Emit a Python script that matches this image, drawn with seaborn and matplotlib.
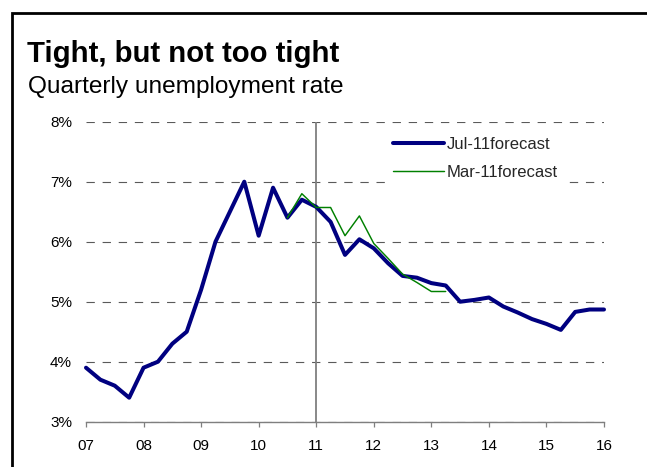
import numpy as np
import pandas as pd
import matplotlib
matplotlib.use("Agg")
import matplotlib.pyplot as plt
from matplotlib.patches import Rectangle
from matplotlib.lines import Line2D
import seaborn as sns

# Quarterly unemployment rate (%), Q1 2007 .. Q1 2016
jul_quarters = np.arange(2007.0, 2016.01, 0.25)
jul_forecast = [
    3.9, 3.7, 3.6, 3.4,
    3.9, 4.0, 4.3, 4.5,
    5.2, 6.0, 6.5, 7.0,
    6.1, 6.9, 6.4, 6.7,
    6.58, 6.33, 5.78, 6.04,
    5.89, 5.64, 5.43, 5.40,
    5.31, 5.27, 5.00, 5.03,
    5.07, 4.92, 4.82, 4.71,
    4.63, 4.53, 4.83, 4.87,
    4.87,
]
# Earlier forecast, Q3 2010 .. Q2 2013
mar_quarters = np.arange(2010.5, 2013.26, 0.25)
mar_forecast = [6.4, 6.8, 6.57, 6.57, 6.1, 6.43, 5.97, 5.72, 5.46, 5.32, 5.17, 5.17]

year_ticks = list(range(2007, 2017))
year_labels = ["07", "08", "09", "10", "11", "12", "13", "14", "15", "16"]
pct_ticks = [3, 4, 5, 6, 7, 8]
pct_labels = ["3%", "4%", "5%", "6%", "7%", "8%"]
series_names = ["Jul-11forecast", "Mar-11forecast"]

NAVY = "#000080"
GREEN = "#008000"
GREY = "#7f7f7f"

df = pd.concat([
    pd.DataFrame({"quarter": jul_quarters, "rate": jul_forecast, "series": series_names[0]}),
    pd.DataFrame({"quarter": mar_quarters, "rate": mar_forecast, "series": series_names[1]}),
])

sns.set_theme(style="white")
plt.rcParams["font.family"] = ["Liberation Sans", "DejaVu Sans"]

W, H = 647, 467
fig = plt.figure(figsize=(W / 100, H / 100), dpi=100)
ax = fig.add_axes([86 / W, (H - 421.7) / H, 518 / W, 300 / H])

sns.lineplot(data=df[df["series"] == series_names[0]], x="quarter", y="rate",
             color=NAVY, linewidth=2.9, ax=ax, legend=False, clip_on=False,
             solid_joinstyle="round", zorder=3)
sns.lineplot(data=df[df["series"] == series_names[1]], x="quarter", y="rate",
             color=GREEN, linewidth=1.05, ax=ax, legend=False, clip_on=False,
             solid_joinstyle="round", zorder=4)

ax.set_xlim(2007, 2016)
ax.set_ylim(3, 8)
ax.set_xticks(year_ticks)
ax.set_xticklabels(year_labels)
ax.set_yticks(pct_ticks)
ax.set_yticklabels(pct_labels)
ax.set_xlabel("")
ax.set_ylabel("")

ax.set_axisbelow(True)
ax.yaxis.grid(True, color="#5a5a5a", linewidth=0.8, linestyle=(0, (7.5, 7)))
ax.xaxis.grid(False)
for side in ["top", "right", "left"]:
    ax.spines[side].set_visible(False)
ax.spines["bottom"].set_color(GREY)
ax.spines["bottom"].set_linewidth(1.0)
ax.spines["bottom"].set_zorder(2)

ax.axvline(2011, color=GREY, linewidth=1.3, zorder=2)

ax.tick_params(axis="x", direction="out", length=3.8, width=0.9, color=GREY,
               pad=8.5, labelsize=11, labelcolor="black", bottom=True)
ax.tick_params(axis="y", length=0, pad=10, labelsize=11, labelcolor="black")

handles = [Line2D([], [], color=NAVY, linewidth=2.9),
           Line2D([], [], color=GREEN, linewidth=1.05)]
leg = ax.legend(handles, series_names, loc="upper left",
                bbox_to_anchor=(0.578, 0.975), fontsize=12,
                handlelength=3.05, handletextpad=0.2, labelspacing=0.8,
                borderpad=0.45, borderaxespad=0, frameon=True, fancybox=False)
leg.get_frame().set_facecolor("white")
leg.get_frame().set_edgecolor("none")
leg.get_frame().set_alpha(1)
leg.set_zorder(5)

# Title block and the panel border
fig.text(27 / W, 1 - 61.5 / H, "Tight, but not too tight", fontsize=21.2,
         fontweight="bold", va="baseline", ha="left", color="black")
fig.text(28 / W, 1 - 93.3 / H, "Quarterly unemployment rate", fontsize=17.6,
         va="baseline", ha="left", color="black")
fig.patches.append(Rectangle((11.5 / W, -0.2), 1.5, (H - 12.7) / H + 0.2,
                             transform=fig.transFigure, fill=False,
                             edgecolor="black", linewidth=2.0))

fig.savefig("out.png", dpi=100)
